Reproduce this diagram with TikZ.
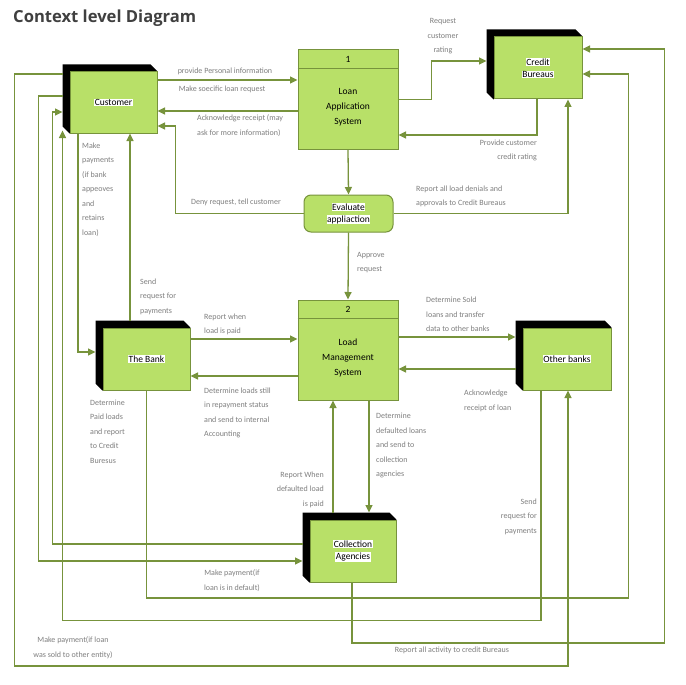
\documentclass[tikz,border=0pt]{standalone}
\usepackage{fontspec}
\setmainfont{Carlito}
\newfontfamily\titlefont{Open Sans}
\usetikzlibrary{arrows.meta,calc}
\definecolor{boxgreen}{HTML}{B8E068}
\definecolor{linegreen}{HTML}{77933C}
\definecolor{lblgray}{HTML}{7F7F7F}
\definecolor{titlegray}{HTML}{404040}
\pgfdeclarelayer{background}
\pgfsetlayers{background,main}
\newcommand\hl[1]{{\setlength\fboxsep{0.6pt}\colorbox{white}{#1}}}
\newcommand\entshadow[1]{%
  \fill[black] ($(#1.north west)+(-7,-7)$) -- ($(#1.north east)+(-7,-7)$) -- (#1.north east)
    -- (#1.south west) -- ($(#1.south west)+(-7,-7)$) -- cycle;}
\tikzset{
  ent/.style={draw=linegreen, line width=1pt, fill=boxgreen, inner sep=0pt, align=center,
    font=\fontsize{9.5}{12}\selectfont},
  proc/.style={draw=linegreen, line width=1pt, fill=boxgreen, inner sep=0pt},
  proctext/.style={align=center, inner sep=0pt, font=\fontsize{9.5}{15}\selectfont},
  flow/.style={draw=linegreen, line width=1.3pt, -{Triangle[length=7.5pt,width=7pt]}},
  lbl/.style={text=lblgray, inner sep=0pt, font=\fontsize{8}{14.5}\selectfont},
}
\begin{document}
\begin{tikzpicture}[x=1pt,y=-1pt]
\useasboundingbox (0,0) rectangle (686,685);
\node[anchor=base west, inner sep=0pt, text=titlegray, font=\titlefont\bfseries\fontsize{16.6}{18}\selectfont] (title) at (13,23) {Context level Diagram};

% entities
\node[ent, minimum width=87, minimum height=61] (cust) at (113.5,102.5) {\hl{Customer}};
\node[ent, minimum width=88, minimum height=62] (cb) at (538,68) {\hl{Credit}\\\hl{Bureaus}};
\node[ent, minimum width=87, minimum height=62] (bank) at (146.5,359) {\hl{The Bank}};
\node[ent, minimum width=88, minimum height=62] (ob) at (567,359) {\hl{Other banks}};
\node[ent, minimum width=86, minimum height=62] (coll) at (353,551) {\hl{Collection}\\\hl{Agencies}};
\begin{pgfonlayer}{background}
\fill[white] (0,0) rectangle (686,685);
\entshadow{cust}\entshadow{cb}\entshadow{bank}\entshadow{ob}\entshadow{coll}
\end{pgfonlayer}

% processes
\node[proc, minimum width=100, minimum height=99] (las) at (348,99.5) {};
\draw[linegreen, line width=1pt] ($(las.north west)+(0,19)$) -- ($(las.north east)+(0,19)$);
\node[proctext] (lasnum) at ($(las.north)+(0,9.5)$) {1};
\node[proctext] (lastext) at ($(las.center)+(0,7.5)$) {Loan\\Application\\System};

\node[proc, minimum width=100, minimum height=100] (lms) at (348,350) {};
\draw[linegreen, line width=1pt] ($(lms.north west)+(0,19)$) -- ($(lms.north east)+(0,19)$);
\node[proctext] (lmsnum) at ($(lms.north)+(0,9.5)$) {2};
\node[proctext] (lmstext) at ($(lms.center)+(0,8)$) {Load\\Management\\System};

\node[proc, rounded corners=7pt, minimum width=89, minimum height=37, align=center,
  font=\fontsize{9.5}{12}\selectfont] (eval) at (348.5,213.5) {\hl{Evaluate}\\\hl{appliaction}};

% connectors
\draw[flow] ($(cust.east)+(0,-22.5)$) -- ($(las.west)+(0,-19.5)$);
\draw[flow] ($(las.west)+(0,11.5)$) -- ($(cust.east)+(0,8.5)$);
\draw[flow] (eval.west) -| ($(cust.east)+(18,23.5)$) -- ($(cust.east)+(0,23.5)$);
\draw[flow] (las.east) -| ($(cb.west)+(-62,-7)$) -- ($(cb.west)+(-7,-7)$);
\draw[flow] ($(cb.south)+(-1,0)$) |- ($(las.east)+(0,35.5)$);
\draw[flow] (las.south) -- (eval.north);
\draw[flow] (eval.east) -| ($(cb.south)+(30,0)$);
\draw[flow] (eval.south) -- (lms.north);
\draw[flow] ($(bank.east)+(0,-20)$) -- ($(lms.west)+(0,-11)$);
\draw[flow] ($(lms.west)+(0,26)$) -- ($(bank.east)+(0,17)$);
\draw[flow] ($(lms.east)+(0,-13)$) -- ($(ob.west)+(-7,-22)$);
\draw[flow] ($(ob.west)+(-7,10)$) -- ($(lms.east)+(0,19)$);
\draw[flow] ($(lms.south)+(21,0)$) -- ($(coll.north)+(16,-7)$);
\draw[flow] ($(coll.north)+(-20,-7)$) -- ($(lms.south)+(-15,0)$);
\draw[flow] ($(cust.south)+(-35.5,0)$) |- ($(bank.west)+(-7,-7)$);
\draw[flow] ($(bank.north)+(-16.5,-7)$) -- ($(cust.south)+(16.5,0)$);
\draw[flow] ($(cust.west)+(-7,-28.5)$) -| ($(cust.west)+(-55,563.5)$) -| ($(ob.south)+(1,0)$);
\draw[flow] ($(cust.west)+(-7,-6.5)$) -| ($(cust.west)+(-31,458.5)$) -- ($(coll.west)+(-7,10)$);
\draw[flow] ($(coll.west)+(-7,-7)$) -| ($(cust.west)+(-17,9.5)$) -- ($(cust.west)+(-7,9.5)$);
\draw[flow] ($(ob.south)+(-26,0)$) |- ($(cust.south west)+(-7,487)$) -- ($(cust.south west)+(-7,-3)$);
\draw[flow] (bank.south) |- ($(cb.east)+(46,530)$) |- ($(cb.east)+(0,6)$);
\draw[flow] ($(coll.south)+(-1,0)$) |- ($(cb.east)+(82,575)$) |- ($(cb.east)+(0,-19)$);

% labels
\node[lbl] (l1) at (225,71) {provide Personal information};
\node[lbl] (l2) at (222,89) {Make soecific loan request};
\node[lbl, anchor=north west, align=left] (l3) at (197,114.5) {Acknowledge receipt (may\\ask for more information)};
\node[lbl] (l4) at (236,202) {Deny request, tell customer};
\node[lbl, anchor=north, align=center] (l5) at (443,18.5) {Request\\customer\\rating};
\node[lbl, anchor=north east, align=right] (l6) at (537,139.5) {Provide customer\\credit rating};
\node[lbl, anchor=north west, align=left] (l7) at (416,185.5) {Report all load denials and\\approvals to Credit Bureaus};
\node[lbl, anchor=north west, align=left] (l8) at (357,252) {Approve\\request};
\node[lbl, anchor=north west, align=left] (l9) at (82,142.5) {Make\\payments\\(if bank\\appeoves\\and\\retains\\loan)};
\node[lbl, anchor=north west, align=left] (l10) at (140,278.5) {Send\\request for\\payments};
\node[lbl, anchor=north west, align=left] (l11) at (204,313.5) {Report when\\load is paid};
\node[lbl, anchor=north west, align=left] (l12) at (204,387.5) {Determine loads still\\in repayment status\\and send to internal\\Accounting};
\node[lbl, anchor=north west, align=left] (l13) at (90,399.5) {Determine\\Paid loads\\and report\\to Credit\\Buresus};
\node[lbl, anchor=north west, align=left] (l14) at (426,297) {Determine Sold\\loans and transfer\\data to other banks};
\node[lbl, anchor=north west, align=left] (l15) at (464,390) {Acknowledge\\receipt of loan};
\node[lbl, anchor=north west, align=left] (l16) at (376,413) {Determine\\defaulted loans\\and send to\\collection\\agencies};
\node[lbl, anchor=north east, align=right] (l17) at (324,471.5) {Report When\\defaulted load\\is paid};
\node[lbl, anchor=north, align=center] (l18) at (232,569.5) {Make payment(if\\loan is in default)};
\node[lbl, anchor=north, align=center] (l19) at (73,636.5) {Make payment(if loan\\was sold to other entity)};
\node[lbl, anchor=north east, align=right] (l20) at (537,498.5) {Send\\request for\\payments};
\node[lbl] (l21) at (452,650) {Report all activity to credit Bureaus};
\end{tikzpicture}
\end{document}
